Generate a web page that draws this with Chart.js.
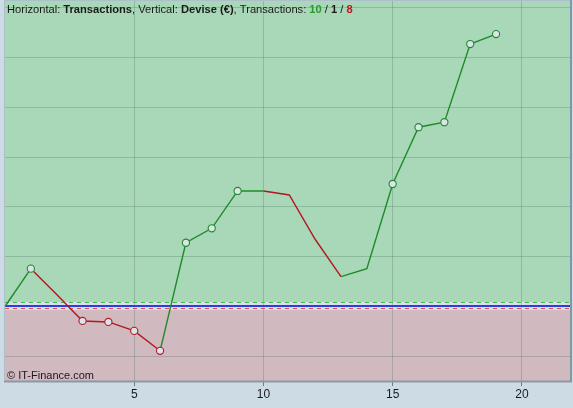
<!DOCTYPE html>
<html>
<head>
<meta charset="utf-8">
<script src="https://cdn.jsdelivr.net/npm/chart.js@4"></script>
<style>
html,body{margin:0;padding:0;background:#cddce4;}
#wrap{width:573px;height:408px;position:relative;}
</style>
</head>
<body>
<div id="wrap"><canvas id="c" width="573" height="408"></canvas></div>
<script>
// Data
const transactions = [0,1,2,3,4,5,6,7,8,9,10,11,12,13,14,15,16,17,18,19];
const balance = [0, 76, 24, -29, -31, -49, -89, 128, 157, 232, 232, 224, 135, 60, 76, 246, 360, 370, 527, 547];
const showMarker = [0,1,0,1,1,1,1,1,1,1,0,0,0,0,0,1,1,1,1,1];
const xTickValues = [5, 10, 15, 20];
const yGridValues = [-100, 0, 100, 200, 300, 400, 500, 600];
const counts = {win: 10, flat: 1, loss: 8};

const GREEN = '#1f8a2a';
const RED = '#b3181e';
const FONT = '"Liberation Sans", Arial, sans-serif';

const bgPlugin = {
  id: 'bg',
  beforeDraw(chart) {
    const {ctx, chartArea: a, scales: {y}} = chart;
    ctx.save();
    ctx.fillStyle = '#cddce4';
    ctx.fillRect(0, 0, chart.width, chart.height);
    const z = Math.round(y.getPixelForValue(0));
    ctx.fillStyle = '#a9d8b9';
    ctx.fillRect(a.left, a.top, a.right - a.left, z - 4 - a.top);
    ctx.fillStyle = '#d6deec';
    ctx.fillRect(a.left, z - 4, a.right - a.left, 8);
    ctx.fillStyle = '#d0b9bf';
    ctx.fillRect(a.left, z + 4, a.right - a.left, a.bottom - z - 4);
    ctx.restore();
  },
  beforeDatasetsDraw(chart) {
    const {ctx, chartArea: a, scales: {y}} = chart;
    const z = Math.round(y.getPixelForValue(0));
    ctx.save();
    ctx.lineWidth = 1;
    ctx.setLineDash([4, 4]);
    ctx.strokeStyle = '#44b84c';
    ctx.beginPath(); ctx.moveTo(a.left, z - 3.5); ctx.lineTo(a.right, z - 3.5); ctx.stroke();
    ctx.strokeStyle = '#e85050';
    ctx.beginPath(); ctx.moveTo(a.left, z + 2.5); ctx.lineTo(a.right, z + 2.5); ctx.stroke();
    ctx.setLineDash([]);
    ctx.lineWidth = 2;
    ctx.strokeStyle = '#2b3ee6';
    ctx.beginPath(); ctx.moveTo(a.left, z); ctx.lineTo(a.right, z); ctx.stroke();
    ctx.restore();
  },
  afterDraw(chart) {
    const {ctx, chartArea: a} = chart;
    ctx.save();
    // frame
    ctx.lineWidth = 1;
    ctx.strokeStyle = '#aebfcc';
    ctx.beginPath();
    ctx.moveTo(a.left - 0.5, a.bottom); ctx.lineTo(a.left - 0.5, a.top - 0.5); ctx.lineTo(a.right, a.top - 0.5);
    ctx.stroke();
    ctx.strokeStyle = '#7f97a6';
    ctx.lineWidth = 2;
    ctx.beginPath();
    ctx.moveTo(a.right, a.top - 1); ctx.lineTo(a.right, a.bottom);
    ctx.stroke();
    ctx.strokeStyle = '#8e98a2';
    ctx.beginPath();
    ctx.moveTo(a.right + 1, a.bottom + 0.5); ctx.lineTo(a.left - 1, a.bottom + 0.5);
    ctx.stroke();
    // title
    ctx.textBaseline = 'alphabetic';
    let x = 7;
    const yb = 13;
    const parts = [
      ['Horizontal: ', 'normal', '#1a1a1a'],
      ['Transactions', 'bold', '#1a1a1a'],
      [', Vertical: ', 'normal', '#1a1a1a'],
      ['Devise (€)', 'bold', '#1a1a1a'],
      [', Transactions: ', 'normal', '#1a1a1a'],
      [String(counts.win), 'bold', '#2a9a2a'],
      [' / ', 'normal', '#1a1a1a'],
      [String(counts.flat), 'bold', '#1a1a1a'],
      [' / ', 'normal', '#1a1a1a'],
      [String(counts.loss), 'bold', '#c0181e']
    ];
    for (const [t, w, c] of parts) {
      ctx.font = w + ' 11.15px ' + FONT;
      ctx.fillStyle = c;
      ctx.fillText(t, x, yb);
      x += ctx.measureText(t).width;
    }
    ctx.font = 'normal 11px ' + FONT;
    ctx.fillStyle = '#1a1a1a';
    ctx.fillText('© IT-Finance.com', 7, 379);
    ctx.restore();
  }
};

new Chart(document.getElementById('c'), {
  type: 'line',
  data: {
    labels: transactions,
    datasets: [{
      data: transactions.map((t, i) => ({x: t, y: balance[i]})),
      borderWidth: 1.4,
      borderColor: GREEN,
      segment: {
        borderColor: c => c.p1.parsed.y < c.p0.parsed.y ? RED : GREEN
      },
      pointRadius: showMarker.map(m => m ? 3.6 : 0),
      pointHoverRadius: showMarker.map(m => m ? 3.6 : 0),
      pointBackgroundColor: '#dbe4e8',
      pointBorderColor: balance.map((v, i) => i > 0 && v < balance[i - 1] ? RED : GREEN),
      pointBorderWidth: 1.1,
      tension: 0,
      fill: false,
      clip: false
    }]
  },
  options: {
    responsive: false,
    animation: false,
    devicePixelRatio: 1,
    layout: {autoPadding: false, padding: {left: 5, right: 2, top: 1, bottom: 0}},
    plugins: {legend: {display: false}, tooltip: {enabled: false}, title: {display: false}},
    scales: {
      x: {
        type: 'linear',
        min: 0,
        max: 21.9,
        afterBuildTicks: s => { s.ticks = xTickValues.map(v => ({value: v})); },
        afterFit: s => { s.height = 27; },
        grid: {color: 'rgba(40,80,60,0.22)', tickColor: '#6f7c86', tickLength: 5, drawOnChartArea: true},
        border: {display: false},
        ticks: {color: '#1a1a1a', font: {family: FONT, size: 12}, padding: 1, maxRotation: 0}
      },
      y: {
        type: 'linear',
        min: -149.6,
        max: 613.4,
        afterBuildTicks: s => { s.ticks = yGridValues.map(v => ({value: v})); },
        afterFit: s => { s.width = 0; },
        grid: {color: 'rgba(40,80,60,0.22)', drawTicks: false},
        border: {display: false},
        ticks: {display: false}
      }
    }
  },
  plugins: [bgPlugin]
});
</script>
</body>
</html>
